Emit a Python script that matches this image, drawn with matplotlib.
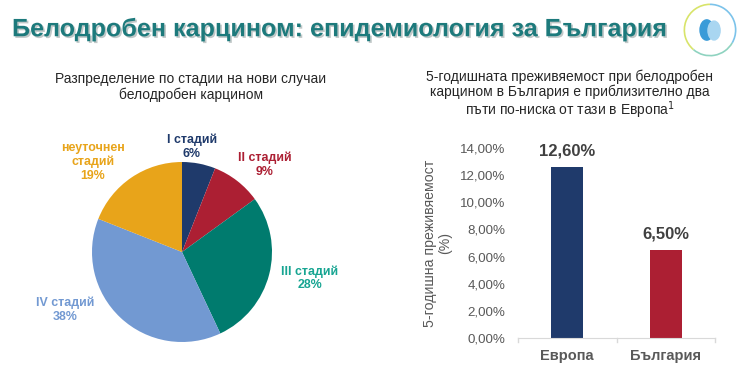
import matplotlib.pyplot as plt
import matplotlib.patheffects as pe
from matplotlib.patches import Circle, Ellipse, Arc

plt.rcParams['font.family'] = ['Liberation Sans', 'DejaVu Sans']

# pie: stage distribution of new cases
stages = ["I стадий", "II стадий", "III стадий", "IV стадий", "неуточнен\nстадий"]
stage_pct = [6, 9, 28, 38, 19]
stage_colors = ["#1f3a6b", "#ac1f33", "#007b6e", "#7299d2", "#e8a41a"]
label_colors = ["#1f3a6b", "#ac1f33", "#17a592", "#7299d2", "#e8a41a"]

# bars: 5-year survival
regions = ["Европа", "България"]
survival = [0.126, 0.065]
bar_colors = ["#1f3a6b", "#ac1f33"]
yticks = [0.0, 0.02, 0.04, 0.06, 0.08, 0.10, 0.12, 0.14]

W, H = 740, 384
fig = plt.figure(figsize=(W / 100, H / 100), dpi=100)
fig.patch.set_facecolor("white")

def fx(px):
    return px / W

def fy(py):
    return 1 - py / H

fig.text(fx(12), fy(29), "Белодробен карцином: епидемиология за България",
         fontsize=18.1, fontweight="bold", color="#1d7a7c", va="center", ha="left",
         path_effects=[pe.withSimplePatchShadow(offset=(1.2, -1.2), alpha=0.25)])

# logo
lax = fig.add_axes([fx(683), fy(57), fx(54), 54 / H])
lax.set_xlim(-1, 1)
lax.set_ylim(-1, 1)
lax.set_aspect("equal")
lax.axis("off")
lax.add_patch(Arc((0, 0), 1.9, 1.9, theta1=90, theta2=230, color="#d8e46a", lw=1.2))
lax.add_patch(Arc((0, 0), 1.9, 1.9, theta1=230, theta2=330, color="#8fd3c0", lw=1.2))
lax.add_patch(Arc((0, 0), 1.9, 1.9, theta1=330, theta2=450, color="#7cc3ea", lw=1.2))
lax.add_patch(Ellipse((-0.12, 0.0), 0.5, 0.75, color="#3a9bd8"))
lax.add_patch(Ellipse((0.15, -0.02), 0.45, 0.7, color="#a9d6f1"))

# ---- pie ----
fig.text(fx(191), fy(87), "Разпределение по стадии на нови случаи\nбелодробен карцином",
         ha="center", va="center", fontsize=10, color="#262626", linespacing=1.1)

pax = fig.add_axes([fx(92), fy(342), fx(180), 180 / H])
pax.pie(stage_pct, colors=stage_colors, startangle=90, counterclock=False,
        wedgeprops=dict(linewidth=0))
pax.set_xlim(-1, 1)
pax.set_ylim(-1, 1)
pax.set_aspect("equal")
label_xy = [(0.11, 1.17), (0.92, 0.97), (1.42, -0.29), (-1.3, -0.64), (-0.99, 1.0)]
for name, pct, c, (lx, ly) in zip(stages, stage_pct, label_colors, label_xy):
    pax.text(lx, ly, f"{name}\n{pct}%", ha="center", va="center", color=c,
             fontsize=8.9, fontweight="bold", linespacing=1.15, clip_on=False)

# ---- bars ----
fig.text(fx(570), fy(95),
         "5-годишната преживяемост при белодробен\nкарцином в България е приблизително два\nпъти по-ниска от тази в Европа$^1$",
         ha="center", va="center", fontsize=10, color="#262626", linespacing=1.05)

bax = fig.add_axes([fx(518), fy(338), fx(715 - 518), (338 - 148) / H])
x = range(len(regions))
bax.bar(x, survival, width=0.32, color=bar_colors)
bax.set_xlim(-0.5, len(regions) - 0.5)
bax.set_ylim(0, 0.14)
bax.set_yticks(yticks)
bax.set_yticklabels([f"{v * 100:.2f}%".replace(".", ",") for v in yticks],
                    fontsize=9.6, color="#595959")
bax.set_xticks(list(x))
bax.set_xticklabels(regions, fontsize=10.5, fontweight="bold", color="#595959")
bax.tick_params(axis="y", length=0, pad=9)
bax.tick_params(axis="x", length=0, pad=8)
for s in ["top", "right", "left"]:
    bax.spines[s].set_visible(False)
bax.spines["bottom"].set_color("#d9d9d9")
for sep in [-0.5, 0.5, 1.5]:
    bax.plot([sep, sep], [0, -0.003], color="#d9d9d9", lw=1, clip_on=False)
for i, v in enumerate(survival):
    bax.text(i, v + 0.006, f"{v * 100:.2f}%".replace(".", ","), ha="center", va="bottom",
             fontsize=12, fontweight="bold", color="#404040")
bax.set_ylabel("5-годишна преживяемост\n(%)", fontsize=10.2, color="#595959",
               linespacing=1.05, labelpad=6)

fig.savefig("out.png", dpi=100, facecolor="white")
